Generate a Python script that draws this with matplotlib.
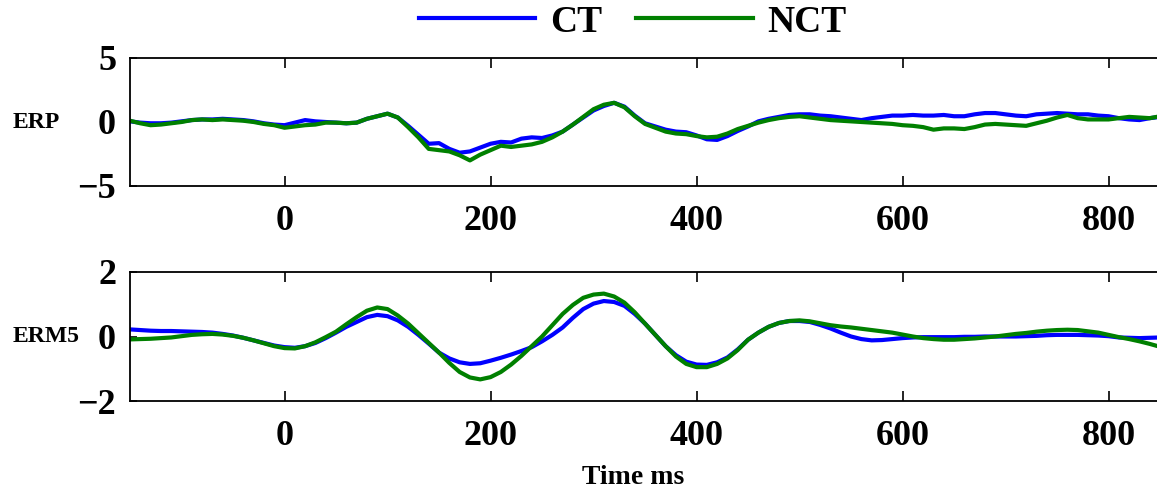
import numpy as np
from matplotlib import pyplot as plt

plt.rcParams['font.family'] = ['Liberation Serif', 'DejaVu Serif']
plt.rcParams['font.weight'] = 'bold'

# time axis, every 10 ms
t = np.arange(-150, 851, 10)

erp_ct = [0.05, -0.05, -0.1, -0.1, -0.05, 0.05, 0.15, 0.2, 0.2, 0.25,
          0.2, 0.15, 0.05, -0.1, -0.2, -0.25, -0.05, 0.15, 0.05, 0.0,
          -0.05, -0.1, -0.05, 0.25, 0.45, 0.65, 0.35, -0.3, -1.0, -1.7,
          -1.65, -2.1, -2.4, -2.3, -2.0, -1.7, -1.55, -1.6, -1.3, -1.2,
          -1.25, -1.05, -0.75, -0.2, 0.35, 0.9, 1.25, 1.5, 1.2, 0.5,
          -0.1, -0.35, -0.6, -0.75, -0.8, -1.05, -1.35, -1.4, -1.1, -0.7,
          -0.35, 0.05, 0.25, 0.4, 0.55, 0.6, 0.6, 0.5, 0.45, 0.35,
          0.25, 0.15, 0.3, 0.4, 0.5, 0.5, 0.55, 0.5, 0.5, 0.55,
          0.45, 0.45, 0.6, 0.7, 0.7, 0.6, 0.5, 0.45, 0.6, 0.65,
          0.7, 0.65, 0.6, 0.6, 0.5, 0.45, 0.3, 0.2, 0.15, 0.3,
          0.4]
erp_nct = [0.1, -0.1, -0.25, -0.2, -0.1, 0.0, 0.15, 0.2, 0.15, 0.2,
           0.15, 0.1, 0.0, -0.15, -0.25, -0.45, -0.35, -0.25, -0.2, -0.05,
           -0.05, -0.1, -0.05, 0.25, 0.45, 0.65, 0.35, -0.4, -1.2, -2.1,
           -2.2, -2.3, -2.6, -3.0, -2.55, -2.2, -1.85, -1.95, -1.85, -1.75,
           -1.55, -1.2, -0.75, -0.2, 0.4, 1.0, 1.35, 1.5, 1.15, 0.45,
           -0.15, -0.45, -0.75, -0.9, -0.95, -1.1, -1.2, -1.15, -0.9, -0.55,
           -0.3, -0.05, 0.15, 0.3, 0.4, 0.45, 0.35, 0.25, 0.15, 0.1,
           0.05, 0.0, -0.05, -0.1, -0.15, -0.25, -0.3, -0.4, -0.6, -0.5,
           -0.5, -0.55, -0.4, -0.2, -0.15, -0.2, -0.25, -0.3, -0.1, 0.1,
           0.35, 0.55, 0.3, 0.2, 0.2, 0.2, 0.3, 0.4, 0.35, 0.3,
           0.45]

erm_ct = [0.22, 0.2, 0.18, 0.17, 0.17, 0.16, 0.15, 0.14, 0.12, 0.08,
          0.03, -0.04, -0.12, -0.2, -0.28, -0.33, -0.35, -0.3, -0.2, -0.05,
          0.12, 0.3, 0.45, 0.6, 0.67, 0.63, 0.5, 0.3, 0.05, -0.22,
          -0.5, -0.68, -0.8, -0.85, -0.83, -0.75, -0.66, -0.56, -0.45, -0.33,
          -0.15, 0.05, 0.28, 0.58, 0.85, 1.02, 1.1, 1.07, 0.95, 0.7,
          0.4, 0.05, -0.3, -0.58, -0.78, -0.87, -0.88, -0.8, -0.65, -0.4,
          -0.1, 0.12, 0.3, 0.42, 0.48, 0.48, 0.45, 0.36, 0.25, 0.12,
          0.0, -0.08, -0.12, -0.11, -0.08, -0.05, -0.03, -0.02, -0.02, -0.02,
          -0.02, -0.01, -0.01, 0.0, 0.0, 0.0, 0.0, 0.01, 0.02, 0.04,
          0.05, 0.05, 0.05, 0.04, 0.03, 0.01, -0.03, -0.04, -0.05, -0.04,
          -0.03]
erm_nct = [-0.09, -0.08, -0.07, -0.05, -0.03, 0.01, 0.05, 0.07, 0.08, 0.06,
           0.02, -0.04, -0.12, -0.21, -0.3, -0.36, -0.37, -0.3, -0.18, -0.02,
           0.15, 0.38, 0.6, 0.8, 0.9, 0.85, 0.65, 0.4, 0.1, -0.2,
           -0.5, -0.82, -1.1, -1.27, -1.33, -1.26, -1.1, -0.87, -0.6, -0.3,
           0.0, 0.35, 0.7, 0.98, 1.2, 1.3, 1.33, 1.24, 1.05, 0.75,
           0.4, 0.05, -0.3, -0.62, -0.85, -0.95, -0.95, -0.85, -0.68, -0.42,
           -0.1, 0.12, 0.3, 0.42, 0.48, 0.5, 0.47, 0.41, 0.35, 0.31,
           0.28, 0.24, 0.2, 0.16, 0.12, 0.06, 0.0, -0.05, -0.08, -0.1,
           -0.1, -0.08, -0.06, -0.03, 0.0, 0.04, 0.08, 0.11, 0.15, 0.18,
           0.2, 0.21, 0.2, 0.16, 0.12, 0.05, -0.02, -0.08, -0.15, -0.23,
           -0.32]

xticks = [0, 200, 400, 600, 800]

fig = plt.figure(figsize=(11.57, 4.93), dpi=100)
ax1 = fig.add_axes([130 / 1157, 1 - 186 / 493, 1 - 130 / 1157, 128 / 493])
ax2 = fig.add_axes([130 / 1157, 1 - 401 / 493, 1 - 130 / 1157, 129 / 493])

for ax, ct, nct, lim, yt in [(ax1, erp_ct, erp_nct, 5, [-5, 0, 5]),
                             (ax2, erm_ct, erm_nct, 2, [-2, 0, 2])]:
    ax.plot(t, ct, color='#0000ff', lw=3, label='CT')
    ax.plot(t, nct, color='#008000', lw=3, label='NCT')
    ax.set_xlim(-150, 847)
    ax.set_ylim(-lim, lim)
    ax.set_xticks(xticks)
    ax.set_yticks(yt)
    ax.spines['right'].set_visible(False)
    for s in ['top', 'bottom', 'left']:
        ax.spines[s].set_linewidth(1.3)
    ax.tick_params(axis='x', direction='in', top=True, length=7, width=1.2,
                   labelsize=26, pad=14)
    ax.tick_params(axis='y', direction='in', length=5, width=1.2,
                   labelsize=26, pad=10)

fig.text(36 / 1157, 1 - 122 / 493, 'ERP', ha='center', va='center',
         fontsize=17, fontweight='bold')
fig.text(46 / 1157, 1 - 337 / 493, 'ERM5', ha='center', va='center',
         fontsize=17, fontweight='bold')
fig.text(633 / 1157, 1 - 478 / 493, 'Time ms', ha='center', va='center',
         fontsize=20, fontweight='bold')

h, l = ax1.get_legend_handles_labels()
fig.legend(h, l, loc='center', bbox_to_anchor=(633 / 1157, 1 - 22 / 493),
           ncol=2, frameon=False, fontsize=27, handlelength=3.1,
           handletextpad=0.4, columnspacing=0.9)

fig.savefig('out.png')
